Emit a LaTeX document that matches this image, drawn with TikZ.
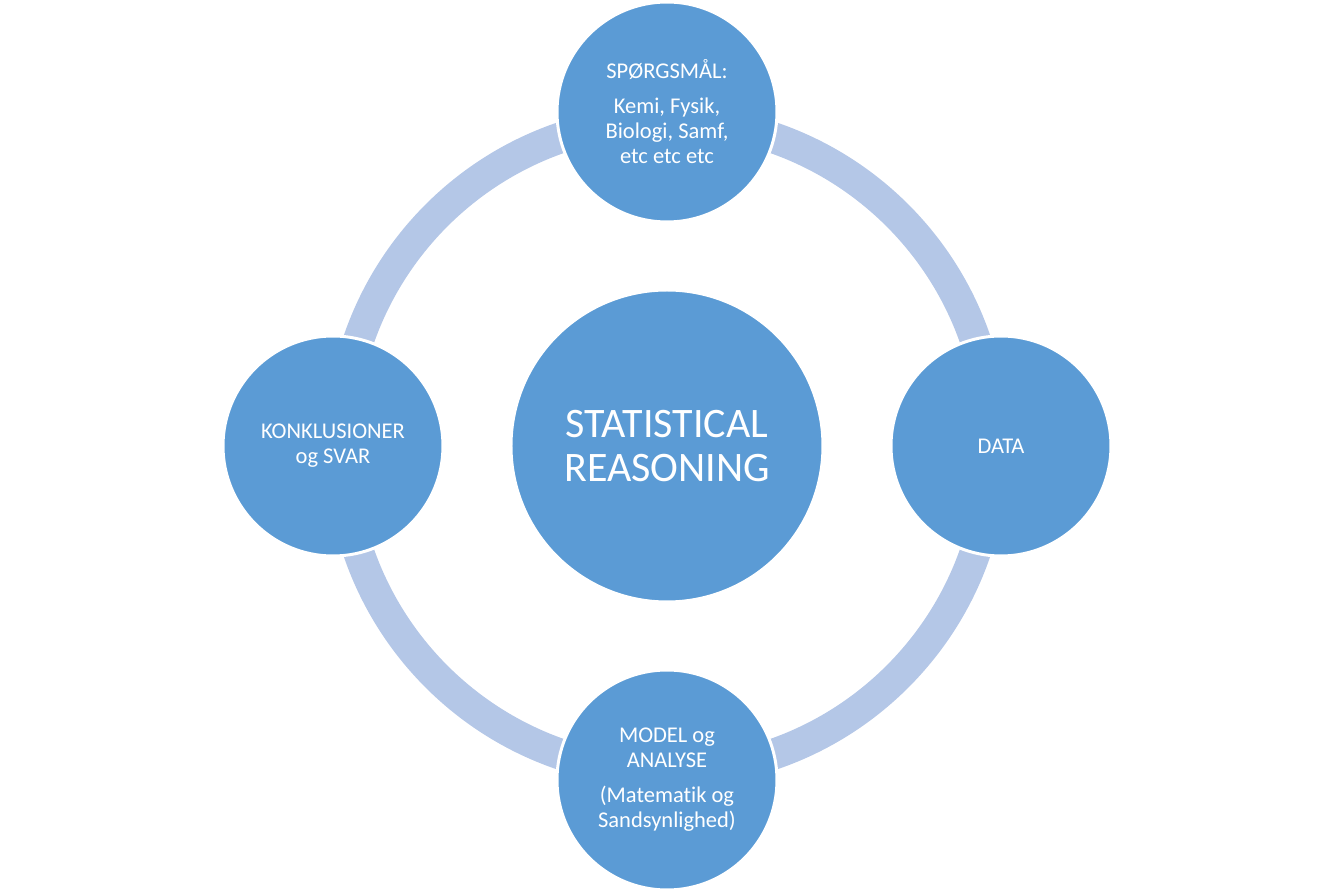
\documentclass[tikz,border=0pt]{standalone}
\usepackage{fontspec}
\setmainfont{Carlito}[Ligatures=NoCommon]
\usepackage{tikz}
\usetikzlibrary{positioning}

\definecolor{circblue}{HTML}{5B9BD5}
\definecolor{ringblue}{HTML}{B4C7E7}

\begin{document}
\begin{tikzpicture}[
    x=1pt, y=1pt,
    node distance=65pt,
    hub/.style = {circle, fill=circblue, draw=white, line width=3pt, minimum size=312pt, align=center, text=white, font=\fontsize{42}{44}\selectfont},
    stage/.style = {circle, fill=circblue, draw=white, line width=3pt, minimum size=220pt, align=center, text=white, font=\fontsize{22.5}{25}\selectfont},
    ring/.style = {draw=ringblue, line width=31pt}
]
\useasboundingbox (-667,-445) rectangle (667,446);

\node (reason) [hub] {STATISTICAL\\REASONING};
\draw[ring] (reason.center) circle[radius=326];

\node (quest) [stage, above=of reason] {SPØRGSMÅL:\\[10pt] Kemi, Fysik,\\ Biologi, Samf,\\ etc etc etc};
\node (data) [stage, right=of reason] {DATA};
\node (model) [stage, below=of reason] {MODEL og\\ ANALYSE\\[10pt] (Matematik og\\ Sandsynlighed)};
\node (concl) [stage, left=of reason] {KONKLUSIONER\\ og SVAR};
\end{tikzpicture}
\end{document}
